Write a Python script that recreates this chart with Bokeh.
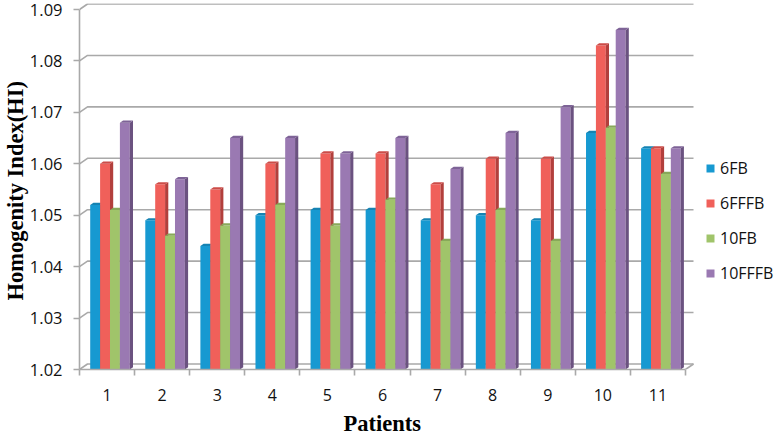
from bokeh.plotting import figure
from bokeh.models import FixedTicker, Legend, LegendItem, Range1d, Title
from bokeh.embed import file_html
from bokeh.resources import INLINE

patients = [1, 2, 3, 4, 5, 6, 7, 8, 9, 10, 11]
y_ticks = [1.02, 1.03, 1.04, 1.05, 1.06, 1.07, 1.08, 1.09]
fb6 = [1.052, 1.049, 1.044, 1.050, 1.051, 1.051, 1.049, 1.050, 1.049, 1.066, 1.063]
fffb6 = [1.060, 1.056, 1.055, 1.060, 1.062, 1.062, 1.056, 1.061, 1.061, 1.083, 1.063]
fb10 = [1.051, 1.046, 1.048, 1.052, 1.048, 1.053, 1.045, 1.051, 1.045, 1.067, 1.058]
fffb10 = [1.068, 1.057, 1.065, 1.065, 1.062, 1.065, 1.059, 1.066, 1.071, 1.086, 1.063]
names = ["6FB", "6FFFB", "10FB", "10FFFB"]
series = [fb6, fffb6, fb10, fffb10]
front = ["#1799d1", "#f0605a", "#a0c46a", "#9a79b2"]
side = ["#126f98", "#b23f3c", "#76924a", "#6b5280"]
cap = ["#1583b3", "#cc4c48", "#88a95a", "#7e6397"]

GRID = "#a9a9a9"
FONT = "Open Sans"
X0, X1, Y0, Y1 = 0.5, 11.5, 1.02, 1.09
px_x = (X1 - X0) / 606
px_y = (Y1 - Y0) / 360
DX, DY = 8 * px_x, 5.5 * px_y          # depth of the chart box
BDX, BDY = 3.2 * px_x, 2.2 * px_y      # depth of a bar
BW = 9.9 * px_x
OFF = 15.65 * px_x

p = figure(width=777, height=434, output_backend="svg", toolbar_location=None,
           x_range=Range1d(X0, X1 + 9 * px_x), y_range=Range1d(Y0, Y1 + 6 * px_y),
           frame_width=615, frame_height=366,
           min_border_left=79, min_border_right=83, min_border_top=3, min_border_bottom=65)
p.outline_line_color = None
p.background_fill_color = "white"
p.grid.visible = False

grid_xs = [[X0, X0 + DX, X1 + DX] for t in y_ticks] + [[X1, X1 + DX]]
grid_ys = [[t, t + DY, t + DY] for t in y_ticks] + [[Y0, Y0 + DY]]
p.multi_line(grid_xs, grid_ys, line_color=GRID, line_width=1.6)

legend_items = []
for k, (name, vals) in enumerate(zip(names, series)):
    xc = [i - 0.5 + OFF + k * BW for i in patients]
    r = p.vbar(x=xc, top=vals, bottom=Y0, width=BW, fill_color=front[k], line_color=None)
    side_xs, side_ys, cap_xs, cap_ys = [], [], [], []
    for c, v in zip(xc, vals):
        l, rr = c - BW / 2, c + BW / 2
        side_xs.append([rr, rr + BDX, rr + BDX, rr])
        side_ys.append([Y0, Y0 + BDY, v + BDY, v])
        cap_xs.append([l, l + BDX, rr + BDX, rr])
        cap_ys.append([v, v + BDY, v + BDY, v])
    p.patches(side_xs, side_ys, fill_color=side[k], line_color=None)
    p.patches(cap_xs, cap_ys, fill_color=cap[k], line_color=None)
    legend_items.append(LegendItem(label=name, renderers=[r]))

ya = p.yaxis[0]
ya.ticker = FixedTicker(ticks=y_ticks)
ya.formatter.use_scientific = False
ya.bounds = (Y0, Y1)
ya.axis_line_color = GRID
ya.axis_line_width = 1.6
ya.major_tick_line_color = GRID
ya.major_tick_line_width = 1.6
ya.major_tick_in = 0
ya.major_tick_out = 6
ya.minor_tick_line_color = None
ya.major_label_standoff = 11
ya.major_label_text_font = FONT
ya.major_label_text_font_size = "16.5px"
ya.major_label_text_color = "#111111"

xa = p.xaxis[0]
xa.ticker = FixedTicker(ticks=patients, minor_ticks=[i - 0.5 for i in patients] + [X1])
xa.bounds = (X0, X1)
xa.axis_line_color = GRID
xa.axis_line_width = 1.6
xa.major_tick_line_color = None
xa.minor_tick_line_color = GRID
xa.minor_tick_line_width = 1.6
xa.minor_tick_in = 0
xa.minor_tick_out = 6
xa.major_tick_out = 6
xa.major_tick_in = 0
xa.major_label_standoff = 13
xa.major_label_text_font = FONT
xa.major_label_text_font_size = "16px"
xa.major_label_text_color = "#111111"

p.add_layout(Title(text="Patients", align="left", offset=264, standoff=10,
                   text_font="Liberation Serif", text_font_style="bold", text_font_size="22.5px",
                   text_color="black"), "below")
p.add_layout(Title(text="Homogenity Index(HI)", align="left", offset=69, standoff=-2,
                   text_font="Liberation Serif", text_font_style="bold", text_font_size="22.5px",
                   text_color="black"), "left")

legend = Legend(items=legend_items, location=(11, 85), border_line_color=None,
                background_fill_alpha=0, margin=0, padding=0, spacing=13,
                glyph_width=10, glyph_height=10, label_height=20,
                label_standoff=5, label_text_font=FONT, label_text_font_size="16px",
                label_text_color="#111111")
p.add_layout(legend, "right")

open("out.html", "w").write(file_html(p, INLINE))
